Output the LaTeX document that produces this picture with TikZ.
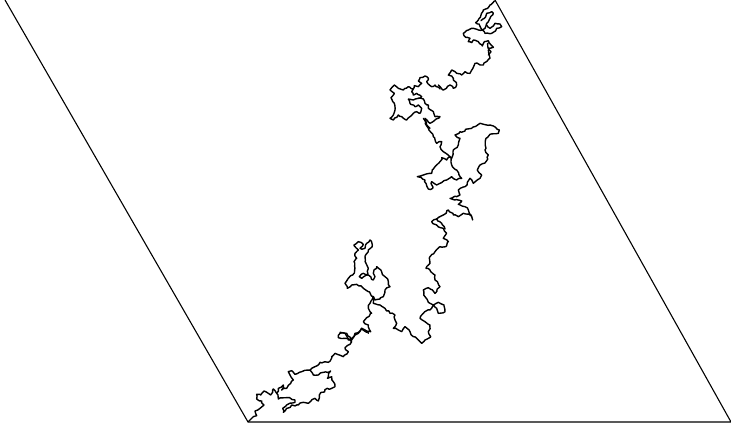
\documentclass[tikz,border=0pt]{standalone}
\usetikzlibrary{decorations.pathmorphing}
\pgfmathsetseed{7}
\tikzset{edgeline/.style={line width=1.1pt,black},
 curve/.style={line width=1.4pt,black,line join=round,line cap=round,decorate,decoration={random steps,segment length=2.6pt,amplitude=1pt}},
 fine/.style={curve,decoration={random steps,segment length=2.2pt,amplitude=.6pt}}}
\begin{document}
\begin{tikzpicture}[x=1pt,y=-1pt]
\useasboundingbox (0,0) rectangle (731,427);
\fill[white] (0,0) rectangle (731,427);
\coordinate (tl) at (5,0);
\coordinate (bl) at (248,422);
\coordinate (br) at (731,422);
\coordinate (tr) at (495,0);
\draw[edgeline] (tl)--(bl)--(br)--(tr);
% lower-left part
\begin{scope}[x=.33333pt,y=-.33333pt,shift={(240pt,-325pt)}]
\draw[curve] (25,290)--(33,282)--(40,275)--(50,272)--(45,258)--(60,250)--(72,240)--(65,228)--(50,222)--(50,208)--(62,210)--(72,198)--(85,205)--(92,210)--(100,192)--(110,205)--(115,222)--(140,218)--(165,225)--(165,232)--(140,240)--(128,250)--(130,262)--(155,240)--(175,240)--(190,232)--(205,235)--(225,220)--(235,228)--(238,210)--(262,190)--(275,190)--(285,185)--(280,170)--(275,155)--(262,160)--(272,138)--(250,142)--(235,150)--(220,150)--(210,135)--(185,140)--(165,148)--(155,137)--(145,140)--(150,150)--(160,165)--(140,190)--(125,195)--(130,180)--(115,190)--(110,205);
\draw[curve] (210,135)--(225,125)--(240,112)--(265,112)--(275,95)--(285,85)--(310,95)--(325,80)--(315,68)--(330,58)--(335,50)--(320,40)--(295,38)--(300,25)--(320,25)--(335,45)--(345,30)--(355,25)--(365,10)--(375,15)--(385,25);
\end{scope}
% lower-middle part
\begin{scope}[x=.33333pt,y=-.33333pt,shift={(340pt,-225pt)}]
\draw[curve] (0,322)--(15,325)--(25,345)--(35,340)--(45,325)--(60,318)--(65,310)--(80,322)--(92,320)--(85,300)--(70,290)--(80,278)--(95,265)--(85,250)--(90,235)--(100,215)--(85,200)--(70,190)--(50,178)--(35,180)--(22,190)--(15,175)--(25,160)--(38,150)--(45,130)--(42,110)--(50,100)--(45,85)--(55,75)--(42,60)--(55,50)--(70,58)--(60,70)--(75,70)--(80,55)--(90,45)--(97,60)--(85,75)--(75,95)--(78,115)--(85,130)--(80,150)--(70,145)--(58,155)--(65,160)--(85,150)--(100,165)--(105,155)--(100,145)--(110,125)--(125,140)--(135,155)--(145,170)--(150,185)--(135,195)--(130,215)--(120,222)--(105,225)--(100,215);
\draw[curve] (100,215)--(100,235)--(120,240)--(135,250)--(150,265)--(165,270)--(165,285)--(170,295)--(160,310)--(175,315)--(185,320)--(195,305)--(210,320)--(220,335)--(235,345)--(245,355)--(255,345)--(272,335)--(265,320)--(270,300)--(255,290)--(240,280)--(250,265)--(270,255)--(280,240)--(290,250)--(295,265)--(315,260)--(312,240)--(295,232)--(280,240)--(270,235)--(255,215)--(250,195)--(265,188)--(285,205)--(300,185)--(285,165)--(285,150)--(270,135)--(258,130)--(270,115)--(270,95)--(285,80)--(300,65)--(320,62)--(325,50)--(310,40)--(320,25)--(310,10)--(290,0);
\end{scope}
% middle part
\begin{scope}[x=.33333pt,y=-.33333pt,shift={(400pt,-115pt)}]
\draw[curve] (135,342)--(125,325)--(110,312)--(95,320)--(110,330);
\draw[curve] (110,312)--(130,300)--(145,285)--(160,300)--(175,305)--(190,295)--(210,300)--(218,315)--(205,285)--(195,275)--(175,268)--(185,258)--(165,255)--(150,250)--(170,245)--(180,240)--(175,225)--(195,215)--(210,190)--(220,205)--(240,190)--(245,180)--(232,165)--(240,150)--(258,140)--(265,120)--(255,105)--(258,70)--(270,58)--(295,55)--(298,45)--(270,30)--(240,25)--(215,40)--(180,50)--(165,60)--(180,70)--(175,90)--(160,105)--(155,130)--(150,125)--(155,150)--(170,165)--(185,190)--(170,195)--(155,185)--(140,195)--(120,205)--(110,210)--(95,200)--(98,220)--(85,222)--(75,195)--(52,185)--(70,180)--(95,175)--(105,155)--(120,140)--(125,128)--(140,135)--(150,125)--(130,110)--(120,95)--(125,80)--(110,85)--(100,65)--(85,40)--(70,10);
\end{scope}
% link up to the top knot
\begin{scope}[x=.33333pt,y=-.33333pt,shift={(380pt,0pt)}]
\draw[curve] (175,255)--(190,270)--(210,255)--(220,265)--(230,255)--(220,235)--(205,225)--(215,210)--(230,220)--(245,225)--(255,215)--(270,220)--(285,190)--(310,195)--(330,175)--(325,150);
\end{scope}
% upper blob
\begin{scope}[x=.33333pt,y=-.33333pt,shift={(385pt,-75pt)}]
\draw[fine] (165,42)--(150,30)--(140,35)--(125,20)--(130,10)--(120,3)--(105,8)--(100,18)--(110,25)--(100,35)--(88,32)--(85,42)--(70,35)--(55,45)--(40,40)--(28,30)--(15,45)--(28,55)--(18,68)--(28,85)--(30,105)--(25,120)--(15,130)--(25,135)--(40,120)--(50,125)--(65,135)--(75,125)--(85,115)--(95,110)--(105,115)--(110,100)--(100,90)--(90,95)--(75,85)--(70,72)--(85,75)--(100,70)--(110,65)--(95,55)--(85,60)--(80,50)--(85,42);
\draw[fine] (100,70)--(115,72)--(120,85)--(130,90)--(130,100)--(145,110)--(150,125)--(165,125)--(150,135)--(135,145)--(120,130)--(125,150)--(135,160);
\end{scope}
% top knot
\begin{scope}[x=.33333pt,y=-.33333pt,shift={(455pt,0pt)}]
\draw[fine] (118,3)--(105,15)--(98,25)--(85,30)--(78,45)--(70,60)--(62,68)--(72,72)--(82,90)--(70,90)--(55,85)--(40,90)--(25,100)--(32,112)--(45,115)--(40,125)--(50,128)--(55,120)--(70,125)--(82,138)--(88,125)--(100,122)--(108,135)--(115,142)--(100,145)--(98,130);
\draw[fine] (100,145)--(108,155)--(100,165);
\draw[fine] (82,90)--(90,85)--(95,70)--(105,55)--(115,40)--(110,35)--(95,40)--(88,55)--(78,62);
\draw[fine] (95,75)--(105,85)--(115,78)--(120,70)--(135,72)--(140,80)--(125,85)--(118,95)--(110,100)--(90,100)--(82,90);
\end{scope}
\end{tikzpicture}
\end{document}
